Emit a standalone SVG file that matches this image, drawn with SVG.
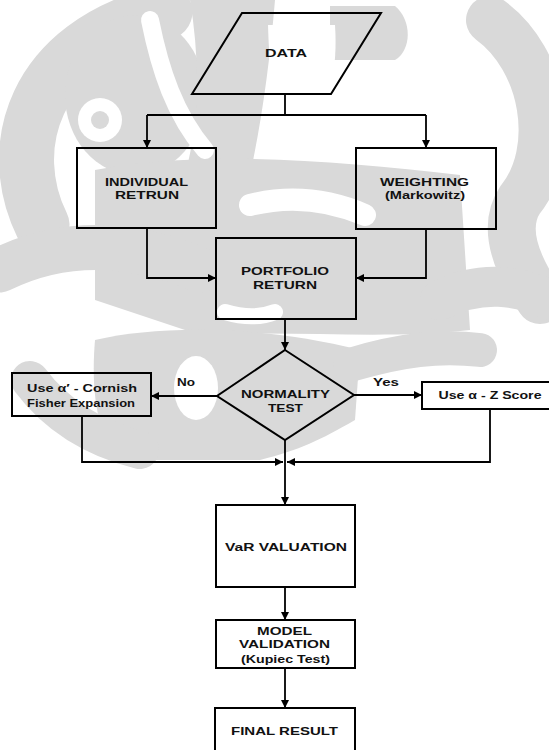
<svg xmlns="http://www.w3.org/2000/svg" width="549" height="750" viewBox="0 0 549 750">
<defs>
<marker id="ah" viewBox="0 0 10 10" refX="10" refY="5" markerWidth="8" markerHeight="8" markerUnits="userSpaceOnUse" orient="auto"><path d="M0,0 L10,5 L0,10 z" fill="#000"/></marker>
<style>
.box{fill:none;stroke:#000;stroke-width:2}
.t{font-family:"Liberation Sans",Arial,sans-serif;font-weight:bold;font-size:11px;fill:#111;text-anchor:middle}
.s{font-size:10px}
.c{fill:none;stroke:#000;stroke-width:1.8}
.w{fill:#d9d9d9;stroke:none}
.wl{fill:none;stroke:#d9d9d9;stroke-linecap:round}
.wh{fill:#fff;stroke:none}
.whl{fill:none;stroke:#fff;stroke-linecap:round}
</style>
</defs>
<rect width="549" height="750" fill="#fff"/>
<g id="watermark">
<path class="wl" stroke-width="55" d="M42,225 C5,150 30,45 165,12"/>
<ellipse class="w" cx="135" cy="95" rx="70" ry="80"/>
<path class="w" d="M190,0 H275 C270,60 262,120 250,175 H185 C200,120 200,60 190,0 Z"/>
<path class="w" d="M330,6 H395 C412,20 412,50 395,60 H330 Z"/>
<path class="w" d="M95,170 C200,150 330,160 460,175 L470,330 C380,340 300,330 200,335 L95,300 Z"/>
<path class="wl" stroke-width="48" d="M490,20 C545,60 560,150 520,200 C500,230 520,270 540,300"/>
<path class="wl" stroke-width="45" d="M0,270 C60,240 130,240 200,270"/>
<path class="wl" stroke-width="40" d="M440,300 C480,280 520,285 549,300"/>
<path class="w" d="M95,340 C160,325 260,325 360,350 L355,420 C320,440 300,450 260,460 L120,460 C100,440 90,400 95,340 Z"/>
<path class="wl" stroke-width="38" d="M30,380 C60,420 100,440 140,450"/>
<path class="wl" stroke-width="34" d="M350,365 C400,350 440,345 480,350"/>
<circle class="wh" cx="100" cy="120" r="22"/>
<circle class="w" cx="100" cy="120" r="9"/>
<path class="whl" stroke-width="18" d="M150,20 C160,70 175,115 205,150"/>
<path class="wh" d="M268,25 H335 C338,70 330,110 300,140 C280,130 270,100 268,25 Z"/>
<path class="whl" stroke-width="22" d="M250,205 C290,195 330,200 365,215"/>
<ellipse class="wh" cx="196" cy="388" rx="22" ry="32"/>
<path class="whl" stroke-width="16" d="M225,312 C245,318 260,318 275,312"/>
</g>
<g id="connectors">
<path class="c" d="M285,94 V115"/>
<path class="c" d="M147,115 H426"/>
<path class="c" d="M147,115 V148" marker-end="url(#ah)"/>
<path class="c" d="M426,115 V148" marker-end="url(#ah)"/>
<path class="c" d="M147,228 V278 H216" marker-end="url(#ah)"/>
<path class="c" d="M426,229 V278 H356" marker-end="url(#ah)"/>
<path class="c" d="M285,319 V350" marker-end="url(#ah)"/>
<path class="c" d="M217,396 H151" marker-end="url(#ah)"/>
<path class="c" d="M354,395 H422" marker-end="url(#ah)"/>
<path class="c" d="M82,416 V462 H283" marker-end="url(#ah)"/>
<path class="c" d="M490,409 V462 H287" marker-end="url(#ah)"/>
<path class="c" d="M285,440 V505" marker-end="url(#ah)"/>
<path class="c" d="M285,587 V620" marker-end="url(#ah)"/>
<path class="c" d="M285,668 V708" marker-end="url(#ah)"/>
</g>
<g id="data">
<polygon class="box" points="242,13 381,13 331,94 192,94"/>
<text class="t" x="286" y="57" textLength="42" lengthAdjust="spacingAndGlyphs">DATA</text>
</g>
<g id="individual">
<rect class="box" x="77" y="148" width="139" height="80"/>
<text class="t" x="146.5" y="186" textLength="83" lengthAdjust="spacingAndGlyphs">INDIVIDUAL</text>
<text class="t" x="147" y="199" textLength="64" lengthAdjust="spacingAndGlyphs">RETRUN</text>
</g>
<g id="weighting">
<rect class="box" x="356" y="148" width="140" height="81"/>
<text class="t" x="424.5" y="186" textLength="89" lengthAdjust="spacingAndGlyphs">WEIGHTING</text>
<text class="t" x="425" y="199" textLength="80" lengthAdjust="spacingAndGlyphs">(Markowitz)</text>
</g>
<g id="portfolio">
<rect class="box" x="216" y="238" width="140" height="81"/>
<text class="t" x="285" y="275" textLength="88" lengthAdjust="spacingAndGlyphs">PORTFOLIO</text>
<text class="t" x="285" y="289" textLength="64" lengthAdjust="spacingAndGlyphs">RETURN</text>
</g>
<g id="normality">
<polygon class="box" points="285,350 354,395 285,440 217,396"/>
<text class="t" x="285.5" y="398" textLength="89" lengthAdjust="spacingAndGlyphs">NORMALITY</text>
<text class="t" x="285.5" y="412" textLength="35" lengthAdjust="spacingAndGlyphs">TEST</text>
</g>
<g id="labels">
<text class="t s" x="186" y="386" textLength="18" lengthAdjust="spacingAndGlyphs">No</text>
<text class="t s" x="386" y="386" textLength="26" lengthAdjust="spacingAndGlyphs">Yes</text>
</g>
<g id="cornish">
<rect class="box" x="12" y="373" width="139" height="43"/>
<text class="t" x="82" y="392" textLength="110" lengthAdjust="spacingAndGlyphs">Use α′ - Cornish</text>
<text class="t s" x="81" y="407" textLength="108" lengthAdjust="spacingAndGlyphs">Fisher Expansion</text>
</g>
<g id="zscore">
<rect class="box" x="422" y="382" width="140" height="27"/>
<text class="t s" x="490" y="399" textLength="103" lengthAdjust="spacingAndGlyphs">Use α - Z Score</text>
</g>
<g id="var">
<rect class="box" x="216" y="505" width="139" height="82"/>
<text class="t" x="286" y="551" textLength="122" lengthAdjust="spacingAndGlyphs">VaR VALUATION</text>
</g>
<g id="model">
<rect class="box" x="216" y="620" width="139" height="48"/>
<text class="t" x="284.5" y="635" textLength="55" lengthAdjust="spacingAndGlyphs">MODEL</text>
<text class="t" x="284.5" y="648" textLength="91" lengthAdjust="spacingAndGlyphs">VALIDATION</text>
<text class="t" x="285.5" y="663" textLength="89" lengthAdjust="spacingAndGlyphs">(Kupiec Test)</text>
</g>
<g id="final">
<rect class="box" x="215" y="708" width="140" height="60"/>
<text class="t" x="284.5" y="735" textLength="107" lengthAdjust="spacingAndGlyphs">FINAL RESULT</text>
</g>
</svg>
